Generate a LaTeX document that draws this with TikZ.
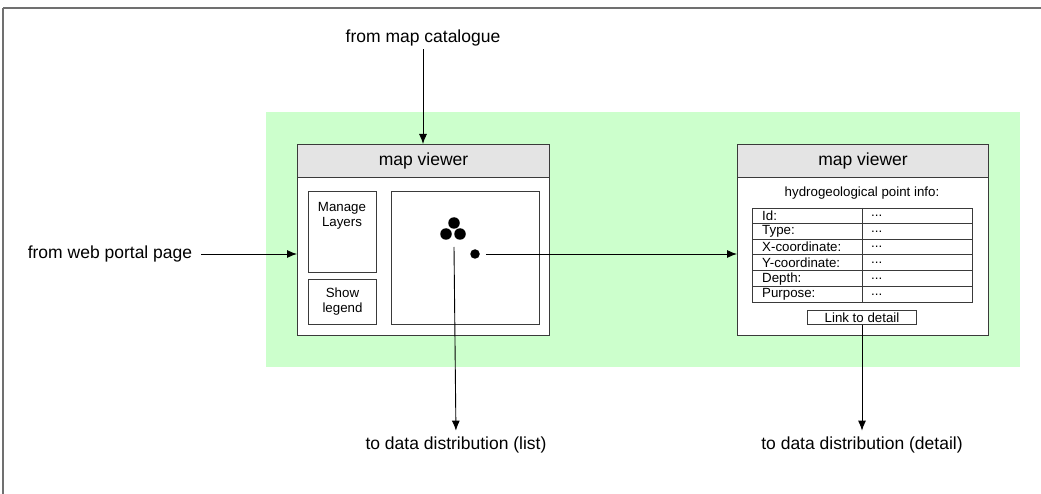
\documentclass[tikz,border=0pt]{standalone}
\usepackage{fontspec}
\setmainfont{Liberation Sans}
\usetikzlibrary{arrows.meta}
\definecolor{bg}{HTML}{CCFFCC}
\definecolor{hdr}{HTML}{E4E4E4}
\definecolor{ln}{HTML}{3A3A3A}
\definecolor{frm}{HTML}{707070}
\begin{document}
\begin{tikzpicture}[x=1pt,y=-1pt,
  box/.style={draw=ln, line width=1pt, inner sep=0pt, anchor=north west},
  arr/.style={draw=black, line width=0.9pt, -{Latex[length=10pt,width=8pt]}},
  big/.style={font=\fontsize{17.5}{20}\selectfont, inner sep=0pt},
  small/.style={font=\fontsize{13.3}{15}\selectfont, inner sep=0pt},
  dot/.style={circle, fill=black, inner sep=0pt, minimum size=11.5pt}]
\useasboundingbox (0,0) rectangle (1041,494);
% frame
\draw[frm, line width=2pt] (1041,8) -- (3,8);
\draw[frm, line width=1.3pt] (3,8) -- (3,494);
% green area
\node[box, draw=none, fill=bg, minimum width=754pt, minimum height=254pt] (green) at (265,112) {};
% left map viewer
\node[box, fill=white, minimum width=252pt, minimum height=191pt] (lview) at (297,144) {};
\node[box, fill=hdr, minimum width=252pt, minimum height=33pt, big] (lhead) at (297,144) {map viewer};
\node[box, minimum width=68pt, minimum height=81pt] (layers) at (308,191) {};
\node[small, align=center, anchor=north] (layerstxt) at (342,202) {Manage\\Layers};
\node[box, minimum width=68pt, minimum height=45pt, small, align=center] (legend) at (308,279) {Show\\legend};
\node[box, minimum width=148pt, minimum height=133pt] (map) at (391,191) {};
\node[dot] (d1) at (454,223) {};
\node[dot] (d2) at (446,234) {};
\node[dot] (d3) at (460,234) {};
\node[dot, minimum size=9.5pt] (d4) at (475,254) {};
\coordinate (c1) at (454,247);
% right map viewer
\node[box, fill=white, minimum width=251pt, minimum height=191pt] (rview) at (737,144) {};
\node[box, fill=hdr, minimum width=251pt, minimum height=33pt, big] (rhead) at (737,144) {map viewer};
\node[small] (info) at (862,193) {hydrogeological point info:};
\node[box, minimum width=220pt, minimum height=94pt] (tbl) at (752,208) {};
\foreach \y in {224,239.5,255,271,286.5} \draw[ln, line width=1pt] (752,\y) -- (972,\y);
\draw[ln, line width=1pt] (862,208) -- (862,302);
\foreach \t/\y [count=\i] in {Id:/216,Type:/231.5,X-coordinate:/247,Y-coordinate:/263,Depth:/279,Purpose:/294.5}{
  \node[small, anchor=west] (k\i) at (762,\y) {\t};
  \node[small, anchor=west] (v\i) at (871,\y) {...};
}
\node[box, minimum width=109pt, minimum height=14pt, small] (link) at (807,310) {Link to detail};
% outside labels
\node[big] (cat) at (423,38) {from map catalogue};
\node[big] (web) at (110,254) {from web portal page};
\node[big] (outlist) at (456,445) {to data distribution (list)};
\node[big] (outdet) at (862,445) {to data distribution (detail)};
% connectors
\draw[arr, shorten <=3pt] (cat.south) -- (lhead.north -| cat);
\draw[arr, shorten <=9pt] (web.east) -- (lview.west |- web);
\draw[arr, shorten >=6pt] (c1) -- (outlist.north);
\draw[arr, shorten <=6pt] (d4.east) -- (rview.west |- d4);
\draw[arr, shorten >=6pt] (link.south) -- (outdet.north);
\end{tikzpicture}
\end{document}
